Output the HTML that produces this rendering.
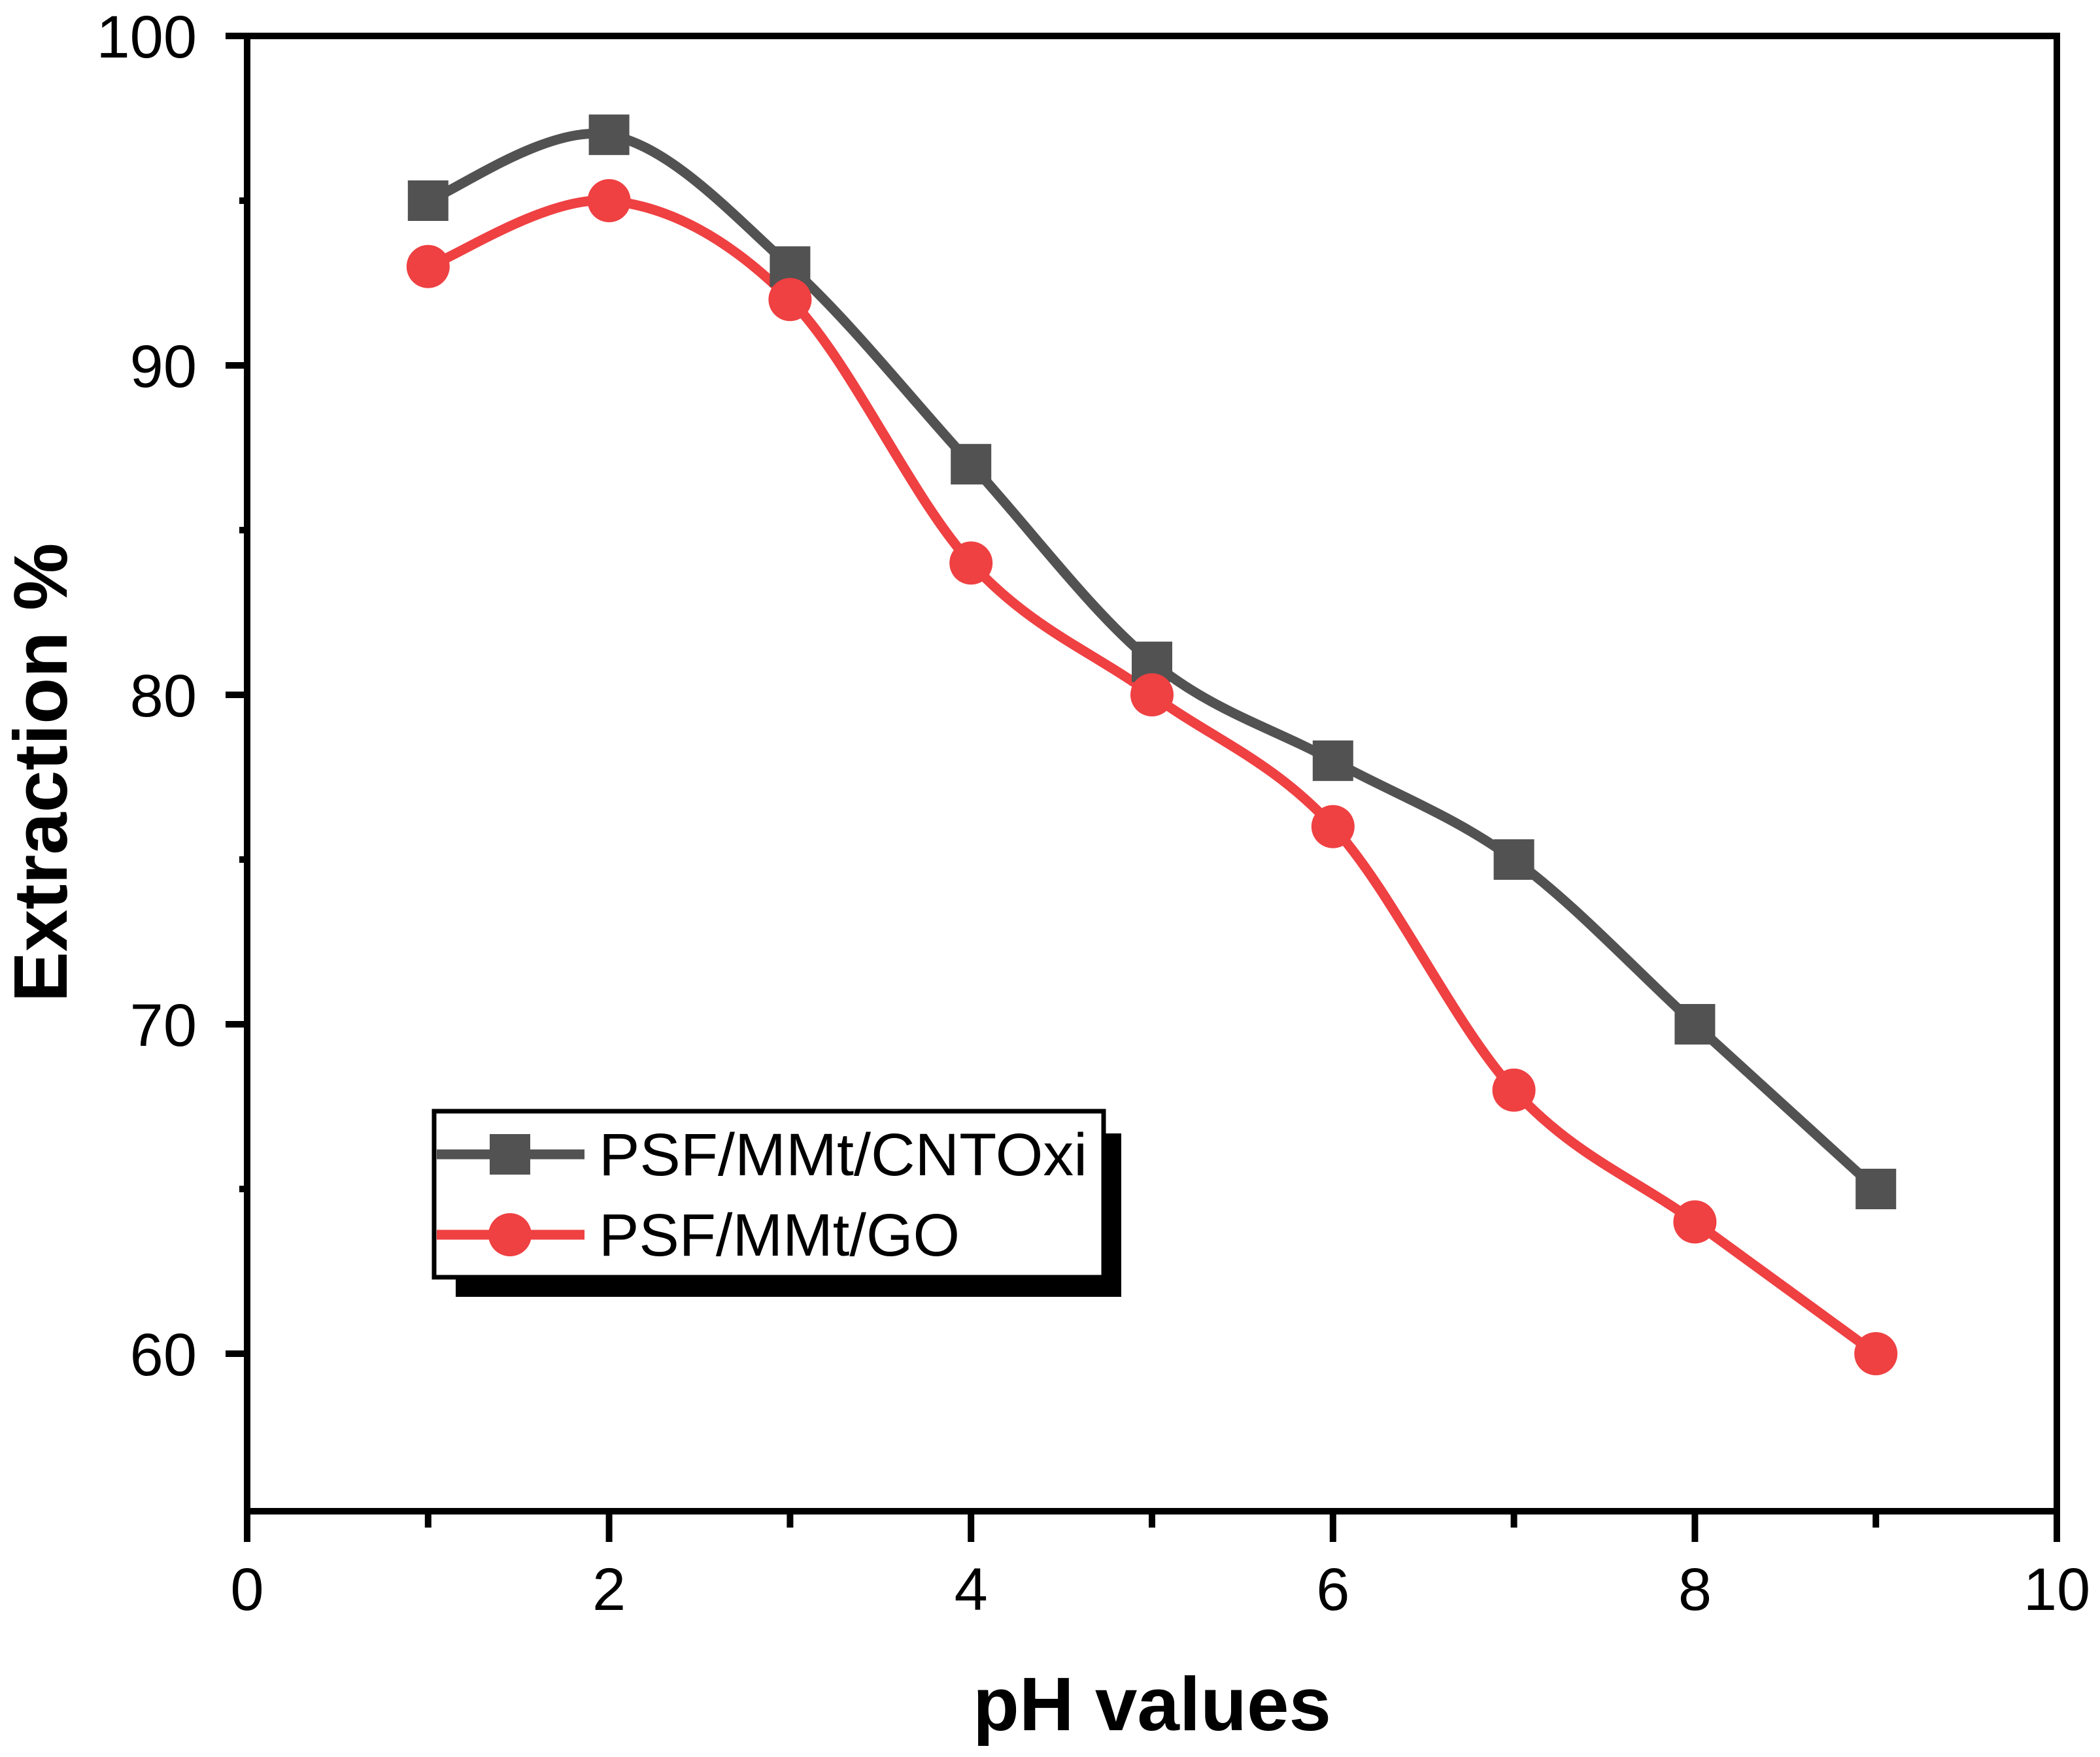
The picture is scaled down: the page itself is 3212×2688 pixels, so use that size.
<!DOCTYPE html>
<html><head><meta charset="utf-8"><style>
html,body{margin:0;padding:0;background:#fff}
svg{display:block}
text{font-family:"Liberation Sans",Arial,sans-serif}
</style></head><body>
<svg id="chart" width="3212" height="2688" viewBox="0 0 3212 2688" xmlns="http://www.w3.org/2000/svg">
<rect x="0" y="0" width="3212" height="2688" fill="#fff"/>
<g id="series"></g>
<g id="axes"></g>
<text x="0" y="0" transform="translate(102,1182) rotate(-90)" text-anchor="middle" font-size="116" font-weight="bold">Extraction %</text>
<text x="1762" y="2647" text-anchor="middle" font-size="116" font-weight="bold">pH values</text>
<g>
<rect x="697" y="1734" width="1018" height="250" fill="#000"/>
<rect x="664" y="1700" width="1024" height="254" fill="#fff" stroke="#000" stroke-width="7"/>
<line x1="668" y1="1766" x2="894" y2="1766" stroke="#525252" stroke-width="15"/>
<rect x="749" y="1735" width="62" height="62" fill="#525252"/>
<line x1="668" y1="1889" x2="894" y2="1889" stroke="#ef4042" stroke-width="15"/>
<circle cx="780" cy="1889" r="33" fill="#ef4042"/>
<text x="916" y="1798" font-size="92" textLength="747" lengthAdjust="spacingAndGlyphs">PSF/MMt/CNTOxi</text>
<text x="916" y="1921" font-size="92">PSF/MMt/GO</text>
</g>
</svg>
<script>
const xValues = [1,2,3,4,5,6,7,8,9];
const cntoxiValues = [95,97,93,87,81,78,75,70,65];
const goValues = [93,95,92,84,80,76,68,64,60];
const xTicks = [0,2,4,6,8,10];
const xMinorTicks = [1,3,5,7,9];
const yTicks = [60,70,80,90,100];
const yMinorTicks = [65,75,85,95];

const NS = "http://www.w3.org/2000/svg";
const L = 378, R = 3146, T = 55, B = 2312;
function sx(v){ return L + (R - L) * v / 10; }
function sy(v){ return 55 + (100 - v) * 50.4; }
function mk(tag, attrs, parent){
  const el = document.createElementNS(NS, tag);
  for (const k in attrs) el.setAttribute(k, attrs[k]);
  parent.appendChild(el);
  return el;
}
const axes = document.getElementById('axes');
const series = document.getElementById('series');

function smoothPath(xs, ys){
  const p = xs.map((x,i)=>[sx(x), sy(ys[i])]);
  let d = `M${p[0][0]},${p[0][1]}`;
  for (let i=0;i<p.length-1;i++){
    const p0 = p[i-1]||p[i], p1=p[i], p2=p[i+1], p3=p[i+2]||p[i+1];
    const c1=[p1[0]+(p2[0]-p0[0])/6, p1[1]+(p2[1]-p0[1])/6];
    const c2=[p2[0]-(p3[0]-p1[0])/6, p2[1]-(p3[1]-p1[1])/6];
    d += ` C${c1[0]},${c1[1]} ${c2[0]},${c2[1]} ${p2[0]},${p2[1]}`;
  }
  return d;
}

const pathC = mk('path', {d: smoothPath(xValues, cntoxiValues), fill:'none', stroke:'#525252', 'stroke-width':15}, series);


const pathG = mk('path', {d: smoothPath(xValues, goValues), fill:'none', stroke:'#ef4042', 'stroke-width':15}, series);


xValues.forEach((x,i)=>{
  const r = mk('rect', {x: sx(x)-31, y: sy(cntoxiValues[i])-31, width:62, height:62, fill:'#525252'}, series);
  
  
});
xValues.forEach((x,i)=>{
  const c = mk('circle', {cx: sx(x), cy: sy(goValues[i]), r:33, fill:'#ef4042'}, series);
  
  
});

const frame = mk('rect', {x:L, y:T, width:R-L, height:B-T, fill:'none', stroke:'#000', 'stroke-width':10}, axes);



xTicks.forEach(v=>{
  const t = mk('line', {x1:sx(v), y1:B, x2:sx(v), y2:B+47, stroke:'#000', 'stroke-width':10}, axes);
  
  
  const lb = mk('text', {x:sx(v), y:B+151, 'text-anchor':'middle', 'font-size':92}, axes);
  lb.textContent = v;
  
  
});
xMinorTicks.forEach(v=>{
  const t = mk('line', {x1:sx(v), y1:B, x2:sx(v), y2:B+25, stroke:'#000', 'stroke-width':10}, axes);
  
  
});
yTicks.forEach(v=>{
  const t = mk('line', {x1:L-33, y1:sy(v), x2:L, y2:sy(v), stroke:'#000', 'stroke-width':10}, axes);
  
  
  const lb = mk('text', {x:301, y:sy(v)+33, 'text-anchor':'end', 'font-size':92}, axes);
  lb.textContent = v;
  
  
});
yMinorTicks.forEach(v=>{
  const t = mk('line', {x1:L-12, y1:sy(v), x2:L, y2:sy(v), stroke:'#000', 'stroke-width':10}, axes);
  
  
});
</script>
</body></html>
